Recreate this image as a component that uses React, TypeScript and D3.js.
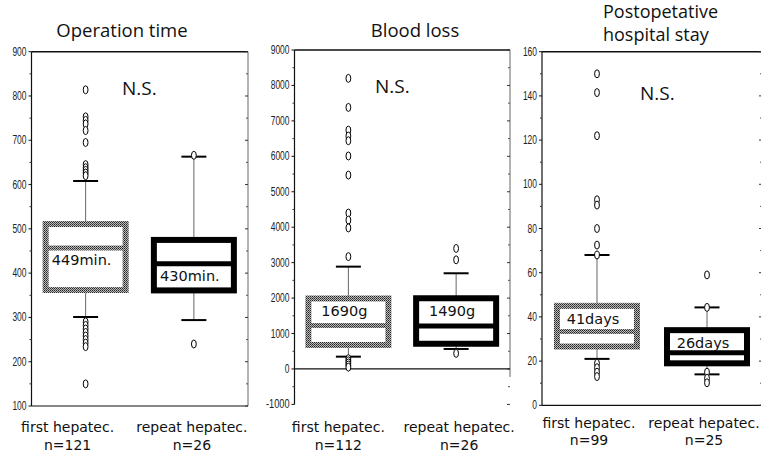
import React from "react";
import * as d3 from "d3";

// ---- data ----
const groups = ["first hepatec.", "repeat hepatec."];
const titles = [["Operation time"], ["Blood loss"], ["Postopetative", "hospital stay"]];
const nLabels = [["n=121", "n=26"], ["n=112", "n=26"], ["n=99", "n=25"]];
const meanLabels = [["449min.", "430min."], ["1690g", "1490g"], ["41days", "26days"]];
const sigLabel = "N.S.";

// [lower whisker, q1, median, q3, upper whisker]
const opStats = [[301, 362, 457, 511, 608], [294, 361, 421, 475, 663]];
const blStats = [[347, 677, 1227, 1989, 2887], [564, 711, 1213, 1995, 2700]];
const hsStats = [[21, 26.6, 33.4, 45, 68], [14, 19, 23.8, 34, 44.3]];

const opOut1 = [814, 753, 745, 737, 722, 695, 645, 638, 632, 626, 620, 290, 282, 274, 266, 258, 250, 242, 234, 150];
const opOut2 = [666, 240];
const blOut1 = [8200, 7380, 6740, 6570, 6440, 6010, 5470, 4400, 4200, 3980, 3170, 290, 230, 170, 110, 50];
const blOut2 = [3400, 3080, 440];
const hsOut1 = [150, 141.5, 122, 93, 90.6, 80, 72.5, 68, 19, 17, 15, 13];
const hsOut2 = [59, 44.3, 15, 12.2, 10.2];

const opTicks = [100, 200, 300, 400, 500, 600, 700, 800, 900];
const blTicks = [-1000, 0, 1000, 2000, 3000, 4000, 5000, 6000, 7000, 8000, 9000];
const hsTicks = [0, 20, 40, 60, 80, 100, 120, 140, 160];

// ---- layout ----
const panels = [
  { stats: opStats, outs: [opOut1, opOut2], ticks: opTicks, minorStep: 50, domain: [100, 900], x0: 31.5, x1: 248, yTop: 51.7, yBot: 406, side: ["below", "below"], zero: false, titleX: 122, titleY: [37], titleAnchor: "middle", titleSize: 18.5, nsX: 122, nsY: 95, labY: [432, 450], labDx: [-18, -2] },
  { stats: blStats, outs: [blOut1, blOut2], ticks: blTicks, minorStep: 500, domain: [-1000, 9000], x0: 294.5, x1: 510, yTop: 50, yBot: 404.4, side: ["above", "above"], zero: true, titleX: 415, titleY: [37], titleAnchor: "middle", titleSize: 18.5, nsX: 375, nsY: 93, labY: [432, 450], labDx: [-10, 3] },
  { stats: hsStats, outs: [hsOut1, hsOut2], ticks: hsTicks, minorStep: 10, domain: [0, 160], x0: 542, x1: 762, yTop: 51.7, yBot: 405.3, side: ["above", "above"], zero: false, titleX: 603, titleY: [18, 41], titleAnchor: "start", titleSize: 18, nsX: 640, nsY: 100, labY: [428, 445], labDx: [-8, -3] },
];

const tickFont = "'Liberation Sans Narrow', 'Liberation Sans', sans-serif";
const labelFont = "'DejaVu Sans', sans-serif";
const titleFont = "'Open Sans', 'Noto Sans', sans-serif";

function Panel({ p, pi }: { p: any; pi: number }) {
  const y = d3.scaleLinear().domain(p.domain).range([p.yBot, p.yTop]);
  const x = d3.scalePoint().domain(groups).range([p.x0, p.x1]).padding(0.5);
  const minor = d3.range(p.domain[0] + p.minorStep, p.domain[1], p.minorStep * 2);
  const halfW = 40;
  const capW = 12.5;
  const bottomY = p.zero ? y(0) : p.yBot;
  return (
    <g>
      {/* titles */}
      <text x={p.titleX} fontFamily={titleFont} fontSize={p.titleSize} textAnchor={p.titleAnchor} fill="#111">
        {titles[pi].map((t: string, i: number) => (
          <tspan key={i} x={p.titleX} y={p.titleY[i]}>{t}</tspan>
        ))}
      </text>
      {/* frame */}
      <line x1={p.x0} x2={p.x1} y1={p.yTop} y2={p.yTop} stroke="#111" strokeWidth={1.6} />
      <line x1={p.x0} x2={p.x0} y1={p.yTop} y2={p.yBot} stroke="#111" strokeWidth={1.2} />
      <line x1={p.x1} x2={p.x1} y1={p.yTop} y2={p.zero ? y(0) + 8 : p.yBot} stroke="#666" strokeWidth={1} />
      <line x1={p.x0} x2={p.x1} y1={bottomY} y2={bottomY} stroke="#111" strokeWidth={1.2} />
      {/* ticks */}
      {p.ticks.map((t: number) => (
        <g key={t}>
          <line x1={p.x0 - 3} x2={p.x0} y1={y(t)} y2={y(t)} stroke="#111" strokeWidth={1} />
          <line x1={p.x1 - 3} x2={p.x1} y1={y(t)} y2={y(t)} stroke="#333" strokeWidth={1} />
          <text x={p.x0 - 5} y={y(t) + 4} fontFamily={tickFont} fontSize={12} textAnchor="end" textLength={String(t).length * 4.7} lengthAdjust="spacingAndGlyphs" fill="#222">{t}</text>
        </g>
      ))}
      {minor.map((t: number) => (
        <g key={"m" + t}>
          <line x1={p.x0 - 2} x2={p.x0} y1={y(t)} y2={y(t)} stroke="#333" strokeWidth={1} />
          <line x1={p.x1 - 2} x2={p.x1} y1={y(t)} y2={y(t)} stroke="#555" strokeWidth={1} />
        </g>
      ))}
      {/* N.S. */}
      <text x={p.nsX} y={p.nsY} fontFamily={titleFont} fontSize={19} fill="#111">{sigLabel}</text>
      {/* boxes */}
      {groups.map((g: string, gi: number) => {
        const [lo, q1, med, q3, hi] = p.stats[gi];
        const cx = x(g) as number;
        const stroke = gi === 0 ? "url(#dith)" : "#000";
        const labBase = p.side[gi] === "below" ? y(med) + 17 : y(q3) + 18;
        return (
          <g key={g}>
            <line x1={cx} x2={cx} y1={y(hi)} y2={y(q3)} stroke="#666" strokeWidth={1} />
            <line x1={cx} x2={cx} y1={y(q1)} y2={y(lo)} stroke="#666" strokeWidth={1} />
            <line x1={cx - capW} x2={cx + capW} y1={y(hi)} y2={y(hi)} stroke="#000" strokeWidth={2} />
            <line x1={cx - capW} x2={cx + capW} y1={y(lo)} y2={y(lo)} stroke="#000" strokeWidth={2} />
            <rect x={cx - halfW} y={y(q3)} width={halfW * 2} height={y(q1) - y(q3)} fill="#fff" stroke={stroke} strokeWidth={6} />
            <line x1={cx - halfW} x2={cx + halfW} y1={y(med)} y2={y(med)} stroke={stroke} strokeWidth={5} />
            <text x={cx - 4} y={labBase} fontFamily={labelFont} fontSize={14.5} textAnchor="middle" fill="#111">{meanLabels[pi][gi]}</text>
            {p.outs[gi].map((v: number, k: number) => (
              <ellipse key={k} cx={cx} cy={y(v)} rx={2.4} ry={4} fill="#fff" stroke="#000" strokeWidth={1} />
            ))}
            <text x={cx + p.labDx[gi]} y={p.labY[0]} fontFamily={labelFont} fontSize={14} textAnchor="middle" fill="#111">{g}</text>
            <text x={cx + p.labDx[gi]} y={p.labY[1]} fontFamily={labelFont} fontSize={14} textAnchor="middle" fill="#111">{nLabels[pi][gi]}</text>
          </g>
        );
      })}
    </g>
  );
}

export default function App() {
  return (
    <svg width={761} height={456} style={{ position: "absolute", left: 0, top: 0, background: "#fff" }}>
      <defs>
        <pattern id="dith" width="2" height="2" patternUnits="userSpaceOnUse">
          <rect width="2" height="2" fill="#bdbdbd" />
          <rect width="1" height="1" fill="#222" />
          <rect x="1" y="1" width="1" height="1" fill="#4a4a4a" />
        </pattern>
      </defs>
      <rect width={761} height={456} fill="#fff" />
      {panels.map((p, i) => <Panel key={i} p={p} pi={i} />)}
    </svg>
  );
}
